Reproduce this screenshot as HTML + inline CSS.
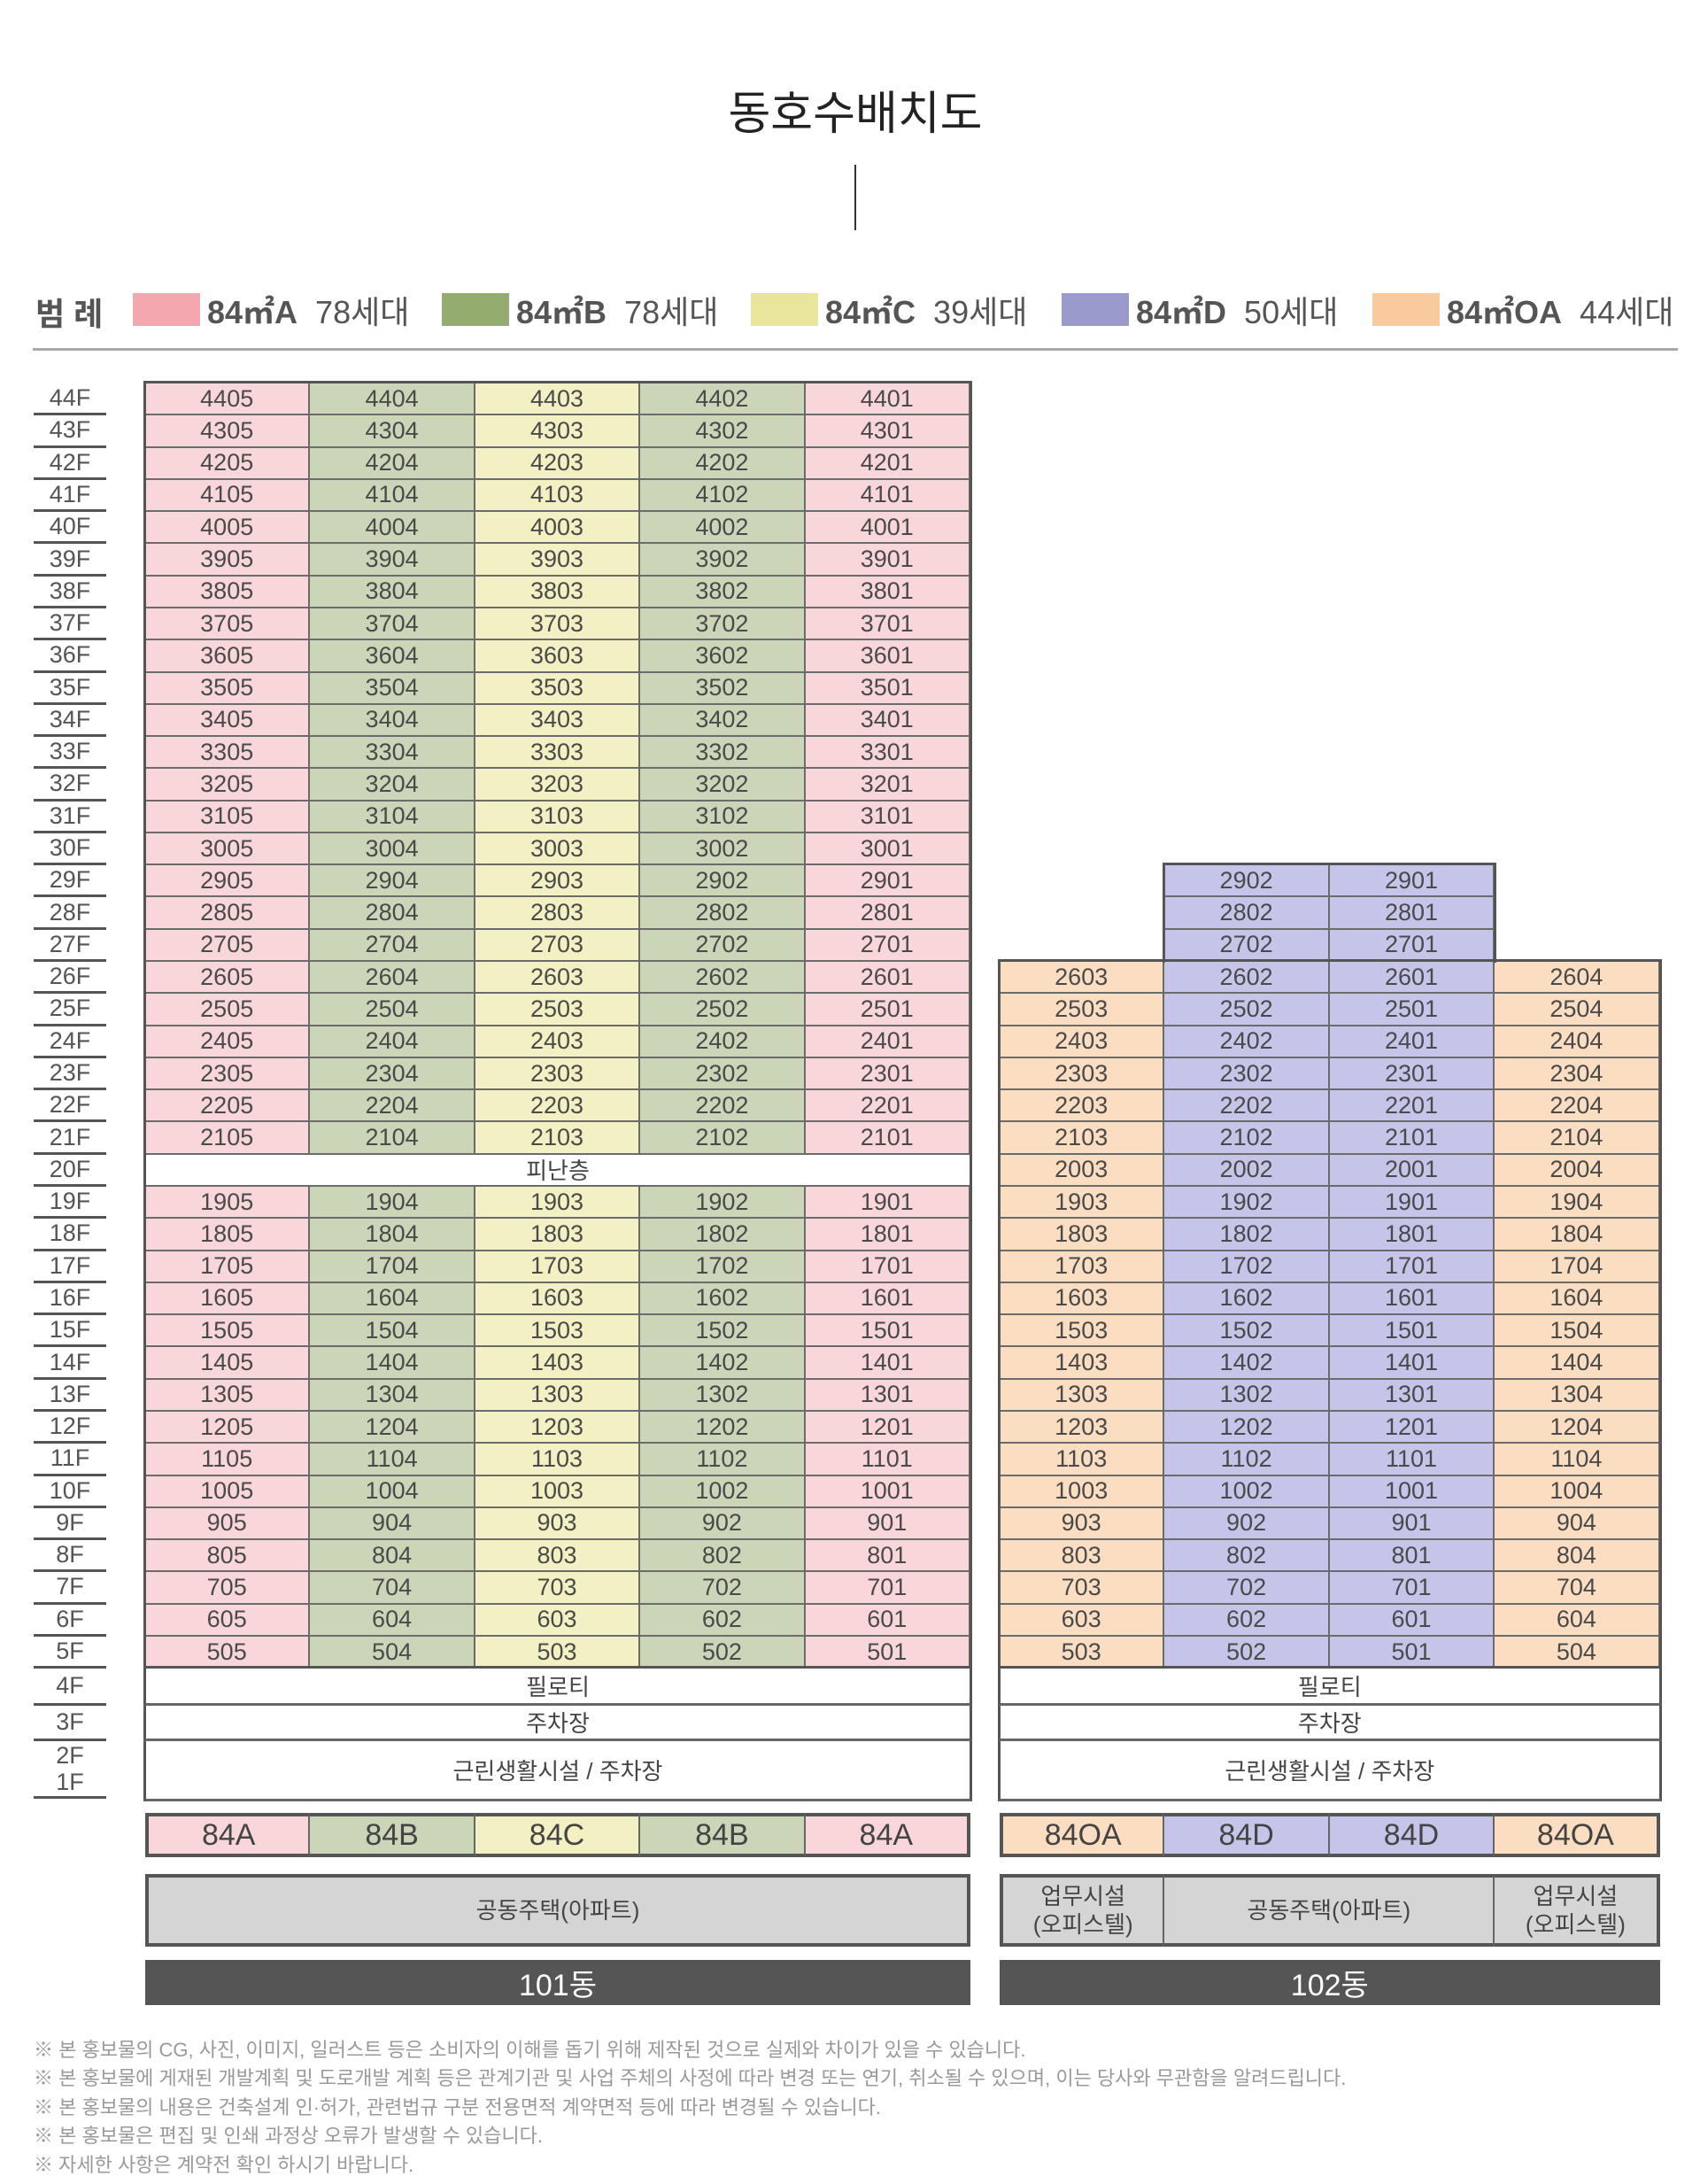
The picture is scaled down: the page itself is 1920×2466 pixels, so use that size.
<!DOCTYPE html>
<html><head><meta charset="utf-8">
<style>
body{margin:0;width:1920px;height:2466px;background:#fff;position:relative;overflow:hidden;font-family:"Liberation Sans","Noto Sans CJK KR",sans-serif;color:#444}
.a{position:absolute;box-sizing:border-box}
.c{display:flex;align-items:center;justify-content:center;text-align:center}
.cell{font-size:27px;color:#4a4a4a;border-right:2px solid #6b6b6b;border-bottom:2px solid #6b6b6b}
.note{position:absolute;left:38px;font-size:22px;color:#999;white-space:nowrap}
</style></head><body>
<div class="a c" style="left:760px;top:90px;width:412px;height:66px;font-size:52px;color:#222">동호수배치도</div>
<div class="a" style="left:965px;top:186px;width:2px;height:74px;background:#333"></div>

<div class="a" style="left:0;top:320px;width:1920px;height:60px">
  <div class="a" style="left:40px;top:6px;font-size:36px;font-weight:bold;color:#555">범 례</div>
</div>
<div class="a" style="left:37px;top:393px;width:1858px;height:3px;background:#aaa"></div>

<div id="chart"></div>

<div class="note" style="top:2297px">※ 본 홍보물의 CG, 사진, 이미지, 일러스트 등은 소비자의 이해를 돕기 위해 제작된 것으로 실제와 차이가 있을 수 있습니다.</div>
<div class="note" style="top:2329px">※ 본 홍보물에 게재된 개발계획 및 도로개발 계획 등은 관계기관 및 사업 주체의 사정에 따라 변경 또는 연기, 취소될 수 있으며, 이는 당사와 무관함을 알려드립니다.</div>
<div class="note" style="top:2362px">※ 본 홍보물의 내용은 건축설계 인·허가, 관련법규 구분 전용면적 계약면적 등에 따라 변경될 수 있습니다.</div>
<div class="note" style="top:2394px">※ 본 홍보물은 편집 및 인쇄 과정상 오류가 발생할 수 있습니다.</div>
<div class="note" style="top:2427px">※ 자세한 사항은 계약전 확인 하시기 바랍니다.</div>

<script>
const legendTypes = ["84㎡A","84㎡B","84㎡C","84㎡D","84㎡OA"];
const legendCounts = ["78세대","78세대","39세대","50세대","44세대"];
const b101Types = ["A","B","C","B","A"];
const b101Units = ["05","04","03","02","01"];
const b102Types = ["OA","D","D","OA"];
const b102Units = ["03","02","01","04"];
const topFloor101 = 44, topFloor102 = 26, towerTop102 = 29, lowFloor = 5, refugeFloor = 20;

const swatch = {A:"#f4a7ae",B:"#94ac6e",C:"#e9e69b",D:"#9a9acd",OA:"#f8ca9e"};
const fill = {A:"#f9d6d9",B:"#cad6b7",C:"#f3f1c4",D:"#c4c5e8",OA:"#fbddc1"};
const keys = ["A","B","C","D","OA"];
const body = document.body;
function box(x,y,w,h,css,txt,name,inter){
  const d=document.createElement('div');
  d.className='a c';
  d.style.cssText=`left:${x}px;top:${y}px;width:${w}px;height:${h}px;`+css;
  if(txt!==undefined) d.innerHTML=txt;
  
  
  body.appendChild(d); return d;
}
const swX=[150,499,848,1199,1550];
legendTypes.forEach((t,i)=>{
  const sw=box(swX[i],331,76,37,'background:'+swatch[keys[i]],'', 'legend-swatch');
  
  const lt=box(swX[i]+84,325,260,50,'justify-content:flex-start;font-size:36px;color:#555;white-space:nowrap',
    `<b>${t}</b>&nbsp;&nbsp;${legendCounts[i]}`, 'legend-entry');
  
});
const top0=433, rh=36.28, colW=186.4;
const x101=164, x102=1129;
const yOf=f=>top0+(topFloor101-f)*rh;
for(let f=topFloor101; f>=lowFloor; f--){
  const y=yOf(f);
  const l=box(38,y,82,rh,'font-size:27px;color:#555;border-bottom:3px solid #555','' + f + 'F','floor-label');
  
}
const y5b=yOf(lowFloor)+rh;
const r4=[y5b,y5b+42], r3=[y5b+42,y5b+82], r21=[y5b+82,y5b+147];
box(38,r4[0],82,r4[1]-r4[0],'font-size:27px;color:#555;border-bottom:3px solid #555','4F','floor-label-4f');
box(38,r3[0],82,r3[1]-r3[0],'font-size:27px;color:#555;border-bottom:3px solid #555','3F','floor-label-3f');
box(38,r21[0],82,r21[1]-r21[0],'font-size:27px;color:#555;border-bottom:3px solid #555;line-height:30px','2F<br>1F','floor-label-2f-1f');

function building(x0,types,units,topF,towerTop,name,typeLabels,useLabels,dongLabel){
  const n=types.length, W=n*colW;
  for(let f=towerTop; f>=lowFloor; f--){
    const y=yOf(f);
    if(f===refugeFloor && name==='101'){
      const r=box(x0,y,W,rh,'background:#fff;font-size:26px;border-bottom:2px solid #6b6b6b','피난층','refuge-floor');
      
      continue;
    }
    types.forEach((t,i)=>{
      if(f>topF && (t!=='D')) return;
      const c=box(x0+i*colW,y,colW,rh,'background:'+fill[t],'', 'unit-cell');
      c.className+=' cell';
      c.textContent=f+units[i];
      
    });
  }
  const dCols=types.map((t,i)=>t==='D'?i:-1).filter(i=>i>=0);
  if(towerTop>topF){
    const ti=dCols[0], tn=dCols.length;
    const o=box(x0+ti*colW-2,yOf(towerTop)-3,tn*colW+4,(towerTop-topF)*rh+4,'border:3px solid #555;border-bottom:none;background:transparent','','tower-outline');
    
  }
  const o2=box(x0-2,yOf(topF)-3,W+4,y5b-yOf(topF)+3,'border:3px solid #555;background:transparent','','building-outline');
  
  const pod=[[r4,'필로티','piloti'],[r3,'주차장','parking'],[r21,'근린생활시설 / 주차장','retail-parking']];
  pod.forEach(([r,t,nm])=>{
    const p=box(x0-2,r[0],W+4,r[1]-r[0]+(nm==='retail-parking'?3:0),'background:#fff;font-size:26px;border-left:3px solid #555;border-right:3px solid #555;border-bottom:3px solid #666',t,'podium');
    
  });
  types.forEach((t,i)=>{
    const tc=box(x0+i*colW,2047,colW,50,'background:'+fill[t]+';font-size:34px;color:#444;border-top:4px solid #555;border-bottom:4px solid #555;border-right:2px solid #666;'+(i===0?'border-left:4px solid #555;':'')+(i===n-1?'border-right:4px solid #555;':''),typeLabels[i],'type-label');
    
  });
  let ux=x0;
  useLabels.forEach(([span,t],k)=>{
    const u=box(ux,2116,span*colW,82,'background:#d5d5d5;font-size:26px;line-height:32px;color:#444;border-top:4px solid #555;border-bottom:4px solid #555;border-right:2px solid #666;'+(k===0?'border-left:4px solid #555;':'')+(k===useLabels.length-1?'border-right:4px solid #555;':''),t,'use');
    
    ux+=span*colW;
  });
  const d=box(x0,2213,W,51,'background:#555;color:#fff;font-size:34px',dongLabel,'dong');
  
}
building(x101,b101Types,b101Units,topFloor101,topFloor101,'101',["84A","84B","84C","84B","84A"],[[5,'공동주택(아파트)']],'101동');
building(x102,b102Types,b102Units,topFloor102,towerTop102,'102',["84OA","84D","84D","84OA"],[[1,'업무시설<br>(오피스텔)'],[2,'공동주택(아파트)'],[1,'업무시설<br>(오피스텔)']],'102동');
</script>
</body></html>
